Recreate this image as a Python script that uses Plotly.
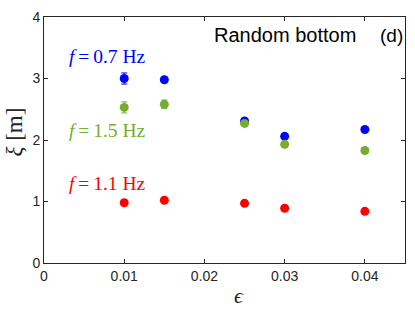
import plotly.graph_objects as go

eps = [0.01, 0.015, 0.025, 0.03, 0.04]
xi_07 = [3.00, 2.98, 2.31, 2.06, 2.17]
err_07 = [0.09, 0.04, 0.03, 0.03, 0.03]
xi_15 = [2.53, 2.58, 2.27, 1.93, 1.83]
err_15 = [0.09, 0.07, 0.03, 0.03, 0.03]
xi_11 = [0.98, 1.02, 0.97, 0.89, 0.84]
err_11 = [0.03, 0.03, 0.03, 0.03, 0.03]

x_ticks = [0, 0.01, 0.02, 0.03, 0.04]
x_ticklabels = ["0", "0.01", "0.02", "0.03", "0.04"]
y_ticks = [0, 1, 2, 3, 4]

BLUE = "rgb(0,0,255)"
GREEN = "rgb(119,172,48)"
RED = "rgb(255,0,0)"

fig = go.Figure()
for y, e, c in [(xi_07, err_07, BLUE), (xi_15, err_15, GREEN), (xi_11, err_11, RED)]:
    fig.add_trace(go.Scatter(
        x=eps, y=y, mode="markers",
        marker=dict(color=c, size=9, line=dict(width=0)),
        error_y=dict(type="data", array=e, color=c, thickness=1, width=3),
        showlegend=False,
    ))

serif = "Liberation Serif, DejaVu Serif, serif"
sans = "Liberation Sans, Arial, sans-serif"
axcol = "rgb(38,38,38)"

ann = [
    dict(x=0.0029, y=3.35, text="<i>f</i>\u2009=\u20090.7 Hz", color=BLUE),
    dict(x=0.0029, y=2.15, text="<i>f</i>\u2009=\u20091.5 Hz", color=GREEN),
    dict(x=0.0029, y=1.29, text="<i>f</i>\u2009=\u20091.1 Hz", color=RED),
]
for a in ann:
    fig.add_annotation(x=a["x"], y=a["y"], text=a["text"], showarrow=False,
                       xanchor="left", yanchor="middle",
                       font=dict(family=serif, size=19.5, color=a["color"]))

fig.add_annotation(x=0.0210, y=3.70, text="Random bottom", showarrow=False,
                   xanchor="left", yanchor="middle",
                   font=dict(family=sans, size=20, color="black"))
fig.add_annotation(x=0.0416, y=3.70, text="(d)", showarrow=False,
                   xanchor="left", yanchor="middle",
                   font=dict(family=sans, size=19, color="black"))

PW, PH = 362, 250.5
fig.add_annotation(x=(240 - 44) / PW, y=-(296 - 263) / PH, xref="paper", yref="paper",
                   text="<i>\u03f5</i>", showarrow=False, xanchor="center", yanchor="middle",
                   font=dict(family=serif, size=22, color=axcol))
fig.add_annotation(x=-(44 - 14) / PW, y=(263 - 130) / PH, xref="paper", yref="paper",
                   text="<i>ξ</i> [m]", showarrow=False, textangle=-90,
                   xanchor="center", yanchor="middle",
                   font=dict(family=serif, size=23, color=axcol))

fig.update_layout(
    width=415, height=312,
    margin=dict(l=44, r=9, t=12.5, b=49),
    paper_bgcolor="white", plot_bgcolor="white",
    xaxis=dict(range=[0, 0.045], tickvals=x_ticks, ticktext=x_ticklabels,
               ticks="inside", ticklen=4, tickcolor=axcol, mirror="ticks",
               showline=True, linecolor=axcol, linewidth=1, showgrid=False, zeroline=False,
               tickfont=dict(family=sans, size=14, color=axcol)),
    yaxis=dict(range=[0, 4], tickvals=y_ticks,
               ticks="inside", ticklen=4, tickcolor=axcol, mirror="ticks",
               showline=True, linecolor=axcol, linewidth=1, showgrid=False, zeroline=False,
               tickfont=dict(family=sans, size=14, color=axcol)),
)

fig.write_html("out.html", config={"displayModeBar": False},
               post_script="document.body.style.margin='0';document.body.style.padding='0';")
